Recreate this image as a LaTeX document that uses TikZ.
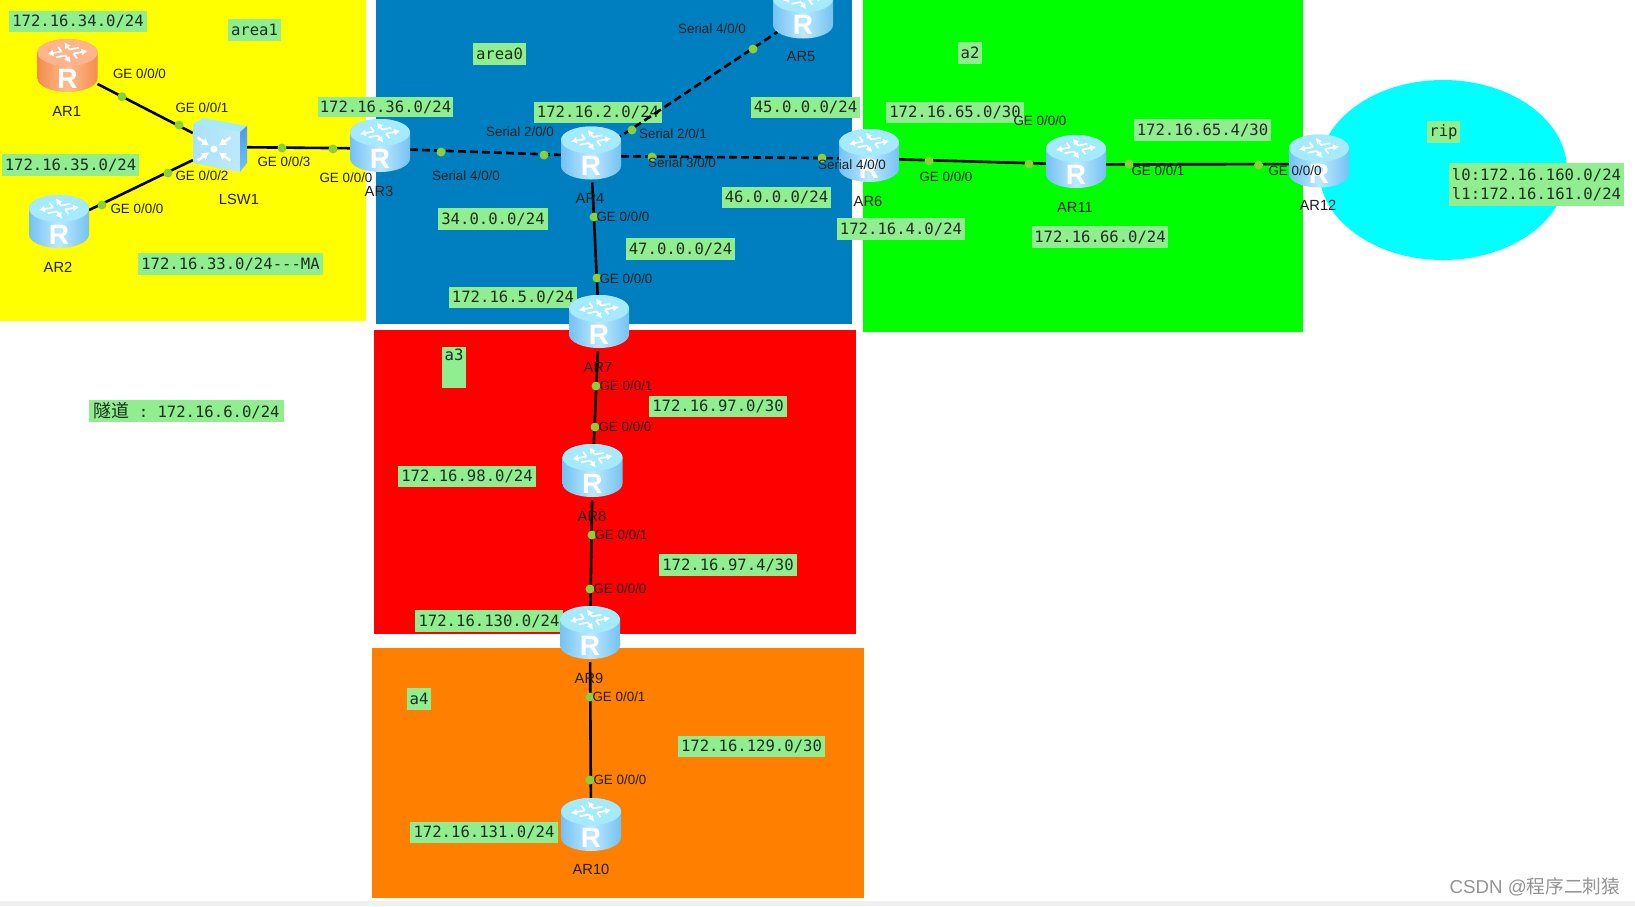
\documentclass[tikz,border=0pt]{standalone}
\usepackage{fontspec}
\setmainfont{Liberation Sans}
\newfontfamily\monof{DejaVu Sans Mono}
\newfontfamily\cjkf{Noto Sans CJK SC}
\usetikzlibrary{arrows.meta}
\pgfdeclarelayer{bg}
\pgfdeclarelayer{lines}
\pgfsetlayers{bg,lines,main}
\definecolor{labgreen}{HTML}{90EE90}
\definecolor{labtext}{HTML}{1C2F1C}
\definecolor{dotgreen}{HTML}{8AD03A}
\definecolor{areablue}{HTML}{007FC0}
\definecolor{areaorange}{HTML}{FF8000}
\definecolor{areayellow}{HTML}{FFFF00}
\definecolor{areagreen}{HTML}{00FF00}
\definecolor{areared}{HTML}{FF0000}
\definecolor{areacyan}{HTML}{00FFFF}
\definecolor{be}{HTML}{74C2F3}\definecolor{bm}{HTML}{BDE9FF}\definecolor{bt}{HTML}{A6EAFF}
\definecolor{oe}{HTML}{F58C4C}\definecolor{om}{HTML}{FFBC90}\definecolor{ot}{HTML}{FFB48C}
\definecolor{swf}{HTML}{A9E2FB}\definecolor{swr}{HTML}{4F97EA}
\tikzset{
  rtrnode/.style={rectangle,minimum width=60pt,minimum height=53pt,inner sep=0pt,outer sep=0pt},
  solidlink/.style={line width=2.6pt,black},
  dashlink/.style={line width=2.6pt,black,dash pattern=on 8pt off 4pt},
  portdot/.style={circle,fill=dotgreen,inner sep=0pt,minimum size=9pt},
  netbox/.style={fill=labgreen,inner sep=0pt,outer sep=0pt,text=labtext,font=\monof\fontsize{15.6}{19}\selectfont},
  portlab/.style={inner sep=0pt,text=black!88,font=\fontsize{13.4}{15}\selectfont},
  devlab/.style={inner sep=0pt,text=black!88,font=\fontsize{14.7}{16}\selectfont},
}
\newcommand{\rtr}[6]{% name,x,y,edge,mid,top
  \node[rtrnode] (#1) at (#2,{#3+3}) {};
  \begin{scope}[shift={(#2,#3)}]
    \path[left color=#4,right color=#4,middle color=#5]
      (-30,-13) -- (-30,13) arc[start angle=180,end angle=0,x radius=30,y radius=13.5]
      -- (30,-13) arc[start angle=0,end angle=-180,x radius=30,y radius=13.5] -- cycle;
    \path[fill=#6] (0,-13) ellipse[x radius=30,y radius=13.5];
    \begin{scope}[shift={(0,-13)},yscale=.5]
      \foreach \a in {20,110,200,290}{
        \begin{scope}[rotate=\a]
          \draw[white,line width=1.8pt,-{Latex[length=6pt,width=7pt]}] (5,4) -- (20,4);
          \draw[white,line width=1.8pt] (5,4) -- (5,14);
        \end{scope}
      }
    \end{scope}
    \node[text=white,inner sep=0pt,font=\bfseries\fontsize{28}{30}\selectfont] at (0,13) {R};
  \end{scope}
}
\newcommand{\nbox}[6][]{% opt,x0,y0,x1,y1,text
  \node[netbox,#1,minimum width={(#4-#2)*1pt},minimum height={(#5-#3)*1pt}] at ({(#2+#4)/2},{(#3+#5)/2}) {#6};
}
\begin{document}
\begin{tikzpicture}[x=1pt,y=-1pt]
\useasboundingbox (0,0) rectangle (1635,906);
\begin{pgfonlayer}{bg}
  \fill[white] (0,0) rectangle (1635,906);
  \fill[black!6] (0,901) rectangle (1635,906);
  \fill[areayellow] (0,0) rectangle (366,321);
  \fill[areablue] (376,0) rectangle (852,324);
  \fill[areared] (374,330) rectangle (856,634);
  \fill[areaorange] (372,648) rectangle (864,898);
  \fill[areagreen] (863,0) rectangle (1303,332);
  \fill[areacyan] (1443,170) ellipse[x radius=124,y radius=90];
  \nbox[name=n34]{9}{11}{147}{32}{172.16.34.0/24}
  \nbox[name=narea1]{228}{19}{281}{41}{area1}
  \nbox[name=n35]{2}{154}{139}{176}{172.16.35.0/24}
  \nbox[name=n33]{138}{253}{323}{275}{172.16.33.0/24---MA}
  \nbox[name=n36]{318}{97}{453}{117}{172.16.36.0/24}
  \nbox[name=narea0]{473}{43}{526}{65}{area0}
  \nbox[name=n2]{534}{102}{662}{123}{172.16.2.0/24}
  \nbox[name=n45]{751}{97}{860}{118}{45.0.0.0/24}
  \nbox[name=n46]{722}{187}{831}{208}{46.0.0.0/24}
  \nbox[name=n34b]{438}{208}{548}{230}{34.0.0.0/24}
  \nbox[name=n47]{626}{238}{735}{260}{47.0.0.0/24}
  \nbox[name=n5]{449}{287}{577}{308}{172.16.5.0/24}
  \nbox[name=n65]{886}{102}{1024}{123}{172.16.65.0/30}
  \nbox[name=n4]{837}{218}{965}{240}{172.16.4.0/24}
  \nbox[name=n66]{1032}{226}{1168}{248}{172.16.66.0/24}
  \nbox[name=na2]{958}{42}{982}{64}{a2}
  \nbox[name=n654]{1134}{119}{1271}{141}{172.16.65.4/30}
  \nbox[name=nrip]{1427}{121}{1460}{143}{rip}
  \nbox[name=nloop,align=left]{1449}{163}{1624}{206}{l0:172.16.160.0/24\\l1:172.16.161.0/24}
  \nbox[name=na3,align=center]{442}{347}{466}{388}{a3\\\strut}
  \nbox[name=n97]{649}{396}{787}{417}{172.16.97.0/30}
  \nbox[name=n98]{398}{466}{536}{487}{172.16.98.0/24}
  \nbox[name=n974]{659}{554}{797}{576}{172.16.97.4/30}
  \nbox[name=n130]{415}{610}{563}{632}{172.16.130.0/24}
  \nbox[name=na4]{407}{688}{431}{710}{a4}
  \nbox[name=n129]{678}{736}{825}{757}{172.16.129.0/30}
  \nbox[name=n131]{410}{822}{558}{843}{172.16.131.0/24}
  \nbox[name=ntun]{89}{400}{284}{422}{{\cjkf\fontsize{18}{19}\selectfont 隧道}\ :\ 172.16.6.0/24}
\end{pgfonlayer}
% routers
\rtr{ar1}{67.5}{65.5}{oe}{om}{ot}
\rtr{ar2}{59}{221.5}{be}{bm}{bt}
\rtr{ar3}{380}{145.5}{be}{bm}{bt}
\rtr{ar4}{591}{153}{be}{bm}{bt}
\rtr{ar5}{803}{12}{be}{bm}{bt}
\rtr{ar6}{869}{155.5}{be}{bm}{bt}
\rtr{ar7}{599}{321.5}{be}{bm}{bt}
\rtr{ar8}{592.5}{470.5}{be}{bm}{bt}
\rtr{ar9}{590}{632.5}{be}{bm}{bt}
\rtr{ar10}{591}{824.5}{be}{bm}{bt}
\rtr{ar11}{1076}{161.5}{be}{bm}{bt}
\rtr{ar12}{1319}{161}{be}{bm}{bt}
% switch
\node[rectangle,minimum width=54pt,minimum height=54pt,inner sep=0pt] (lsw) at (220,147) {};
\path[left color=swf,right color=bm] (193,124) -- (240,132) -- (240,172) -- (193,163) -- cycle;
\path[fill=bt] (193,124) -- (203,118) -- (247,126) -- (240,132) -- cycle;
\path[top color=swr,bottom color=be] (240,132) -- (247,126) -- (247,163) -- (240,172) -- cycle;
\foreach \a in {35,145,215,325}{
  \draw[white,line width=2.6pt,-{Latex[length=7pt,width=9pt]},shift={(214,149)},rotate=\a] (20,0) -- (6,0);
}
\fill[white] (214,149) circle[radius=3.5];
% connectors
\begin{pgfonlayer}{lines}
  \draw[solidlink] (ar1) -- (lsw);
  \draw[solidlink] (ar2) -- (lsw);
  \draw[solidlink] (lsw) -- (ar3);
  \draw[dashlink] (ar3) -- (ar4);
  \draw[dashlink,shorten <=-8pt,shorten >=-16pt] (ar4) -- (ar5);
  \draw[dashlink] (ar4) -- (ar6);
  \draw[solidlink] (ar4) -- (ar7);
  \draw[solidlink] (ar6) -- (ar11);
  \draw[solidlink] (ar11) -- (ar12);
  \draw[solidlink] (ar7) -- (ar8);
  \draw[solidlink] (ar8) -- (ar9);
  \draw[solidlink] (ar9) -- (ar10);
\end{pgfonlayer}
% port dots
\foreach \n/\x/\y in {d1/122/96.7,d2/179/125,d3/168/173,d4/102/205,d5/282/148,d6/333/149,
  d7/441/152,d8/544/155,d9/632/130,d10/753/49,d11/652/157,d12/822/158,d13/594/217,d14/597/278,
  d15/929/161,d16/1029/164,d17/1129/164,d18/1258.6/165,d19/596/386,d20/595/427,d21/592/535,
  d22/590/589,d23/590/697,d24/590/780}{
  \node[portdot] (\n) at (\x,\y) {};
}
% port labels
\foreach \n/\x/\y/\t in {p1/139.5/73.5/GE 0{/}0{/}0,p2/202/108/GE 0{/}0{/}1,p3/202/176/GE 0{/}0{/}2,
  p4/137/209/GE 0{/}0{/}0,p5/284/162/GE 0{/}0{/}3,p6/346/178/GE 0{/}0{/}0,
  p7/712/29/Serial 4{/}0{/}0,p8/520/132/Serial 2{/}0{/}0,p9/673/134/Serial 2{/}0{/}1,
  p10/682/163/Serial 3{/}0{/}0,p11/852/165/Serial 4{/}0{/}0,p12/466/176/Serial 4{/}0{/}0,
  p13/623/217/GE 0{/}0{/}0,p14/626/279/GE 0{/}0{/}0,p15/1040/121/GE 0{/}0{/}0,p16/946/177/GE 0{/}0{/}0,
  p17/1158/171/GE 0{/}0{/}1,p18/1295/171/GE 0{/}0{/}0,p19/626/386/GE 0{/}0{/}1,p20/625/427/GE 0{/}0{/}0,
  p21/621/535/GE 0{/}0{/}1,p22/620/589/GE 0{/}0{/}0,p23/619/697/GE 0{/}0{/}1,p24/620/780/GE 0{/}0{/}0}{
  \node[portlab] (\n) at (\x,\y) {\t};
}
% device labels
\foreach \n/\x/\y/\t in {l1/66.7/111/AR1,l2/58/267/AR2,l3/379/191/AR3,l4/590/198/AR4,l5/801/57/AR5,
  l6/868/201/AR6,l7/598/367/AR7,l8/592/516/AR8,l9/589/678/AR9,l10/591/869/AR10,l11/1075/207/AR11,
  l12/1318/205/AR12,l13/239/199/LSW1}{
  \node[devlab] (\n) at (\x,\y) {\t};
}
\node[inner sep=0pt,text=black!42,font=\fontsize{18.7}{20}\selectfont] (wm) at (1535,887) {CSDN @{\cjkf 程序二刺猿}};
\end{tikzpicture}
\end{document}
